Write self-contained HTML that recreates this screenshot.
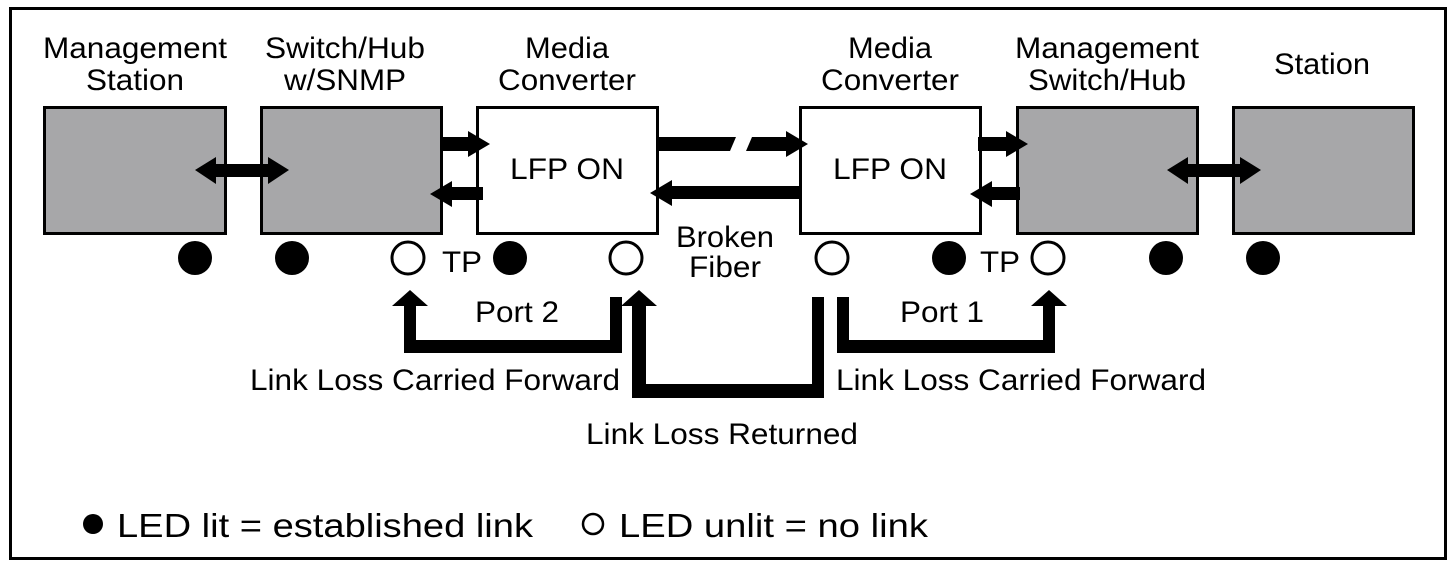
<!DOCTYPE html>
<html><head><meta charset="utf-8"><style>
html,body{margin:0;padding:0;background:#fff;}
svg{display:block;}
text{font-family:"Liberation Sans",Arial,sans-serif;fill:#000;}
</style></head><body>
<svg width="1456" height="565" viewBox="0 0 1456 565" xmlns="http://www.w3.org/2000/svg">
<rect x="10.5" y="8.5" width="1435" height="550" fill="#fff" stroke="#000" stroke-width="3"/>
<g fill="#a7a7a9" stroke="#000" stroke-width="3">
<rect x="44.5" y="107.5" width="181" height="126"/>
<rect x="261.5" y="107.5" width="180" height="126"/>
<rect x="1017.5" y="107.5" width="180" height="126"/>
<rect x="1233.5" y="107.5" width="180" height="126"/>
</g>
<g fill="#fff" stroke="#000" stroke-width="3">
<rect x="477.5" y="107.5" width="180" height="126"/>
<rect x="800.5" y="107.5" width="180" height="126"/>
</g>
<g font-size="30" text-anchor="middle">
<text x="135" y="58" textLength="184" lengthAdjust="spacingAndGlyphs">Management</text>
<text x="135" y="90" textLength="98" lengthAdjust="spacingAndGlyphs">Station</text>
<text x="345" y="58" textLength="160" lengthAdjust="spacingAndGlyphs">Switch/Hub</text>
<text x="345" y="90" textLength="122" lengthAdjust="spacingAndGlyphs">w/SNMP</text>
<text x="567" y="58" textLength="84" lengthAdjust="spacingAndGlyphs">Media</text>
<text x="567" y="90" textLength="138" lengthAdjust="spacingAndGlyphs">Converter</text>
<text x="890" y="58" textLength="84" lengthAdjust="spacingAndGlyphs">Media</text>
<text x="890" y="90" textLength="138" lengthAdjust="spacingAndGlyphs">Converter</text>
<text x="1107" y="58" textLength="184" lengthAdjust="spacingAndGlyphs">Management</text>
<text x="1107" y="90" textLength="158" lengthAdjust="spacingAndGlyphs">Switch/Hub</text>
<text x="1322" y="74" textLength="96" lengthAdjust="spacingAndGlyphs">Station</text>
<text x="567" y="179" textLength="114" lengthAdjust="spacingAndGlyphs">LFP ON</text>
<text x="890" y="179" textLength="114" lengthAdjust="spacingAndGlyphs">LFP ON</text>
<text x="725" y="247" textLength="98" lengthAdjust="spacingAndGlyphs">Broken</text>
<text x="725" y="277" textLength="72" lengthAdjust="spacingAndGlyphs">Fiber</text>
<text x="517" y="322" textLength="84" lengthAdjust="spacingAndGlyphs">Port 2</text>
<text x="942" y="322" textLength="84" lengthAdjust="spacingAndGlyphs">Port 1</text>
<text x="435" y="390" textLength="370" lengthAdjust="spacingAndGlyphs">Link Loss Carried Forward</text>
<text x="1021" y="390" textLength="370" lengthAdjust="spacingAndGlyphs">Link Loss Carried Forward</text>
<text x="722" y="444" textLength="272" lengthAdjust="spacingAndGlyphs">Link Loss Returned</text>
<text x="462" y="272" textLength="40" lengthAdjust="spacingAndGlyphs">TP</text>
<text x="1000" y="272" textLength="40" lengthAdjust="spacingAndGlyphs">TP</text>
</g>
<g fill="#000">
<polygon points="195,170 216,157 216,164 268,164 268,157 289,170 268,184 268,177 216,177 216,184"/>
<polygon points="1167,170 1188,157 1188,164 1240,164 1240,157 1261,170 1240,184 1240,177 1188,177 1188,184"/>
<polygon points="440,137 468,137 468,131 490,144 468,157 468,151 440,151"/>
<polygon points="483,187 452,187 452,181 430,194 452,207 452,200 483,200"/>
<polygon points="658,137 736,137 730,151 658,151"/>
<polygon points="752,137 786,137 786,131 808,144 786,157 786,151 746,151"/>
<polygon points="800,186 672,186 672,180 650,193 672,206 672,199 800,199"/>
<polygon points="978,137 1006,137 1006,131 1028,144 1006,157 1006,151 978,151"/>
<polygon points="1020,187 992,187 992,181 970,194 992,207 992,200 1020,200"/>
<polygon points="410,290 428,306 416,306 416,340 610,340 610,297 622,297 622,353 404,353 404,306 392,306"/>
<polygon points="639,290 657,306 646,306 646,384 812,384 812,297 824,297 824,398 632,398 632,306 621,306"/>
<polygon points="1049,290 1067,306 1055,306 1055,353 837,353 837,297 849,297 849,340 1043,340 1043,306 1031,306"/>
<circle cx="195" cy="258" r="17"/>
<circle cx="292" cy="258" r="17"/>
<circle cx="510" cy="258" r="17"/>
<circle cx="949" cy="258" r="17"/>
<circle cx="1166" cy="258" r="17"/>
<circle cx="1263" cy="258" r="17"/>
<circle cx="93" cy="524" r="10"/>
</g>
<g fill="#fff" stroke="#000" stroke-width="3">
<circle cx="408" cy="258" r="16"/>
<circle cx="626" cy="258" r="16"/>
<circle cx="832" cy="258" r="16"/>
<circle cx="1048" cy="258" r="16"/>
<circle cx="593" cy="524" r="10" stroke-width="2.5"/>
</g>
<g font-size="33">
<text x="117" y="537" textLength="416" lengthAdjust="spacingAndGlyphs">LED lit = established link</text>
<text x="619" y="537" textLength="309" lengthAdjust="spacingAndGlyphs">LED unlit = no link</text>
</g>
</svg>
</body></html>
